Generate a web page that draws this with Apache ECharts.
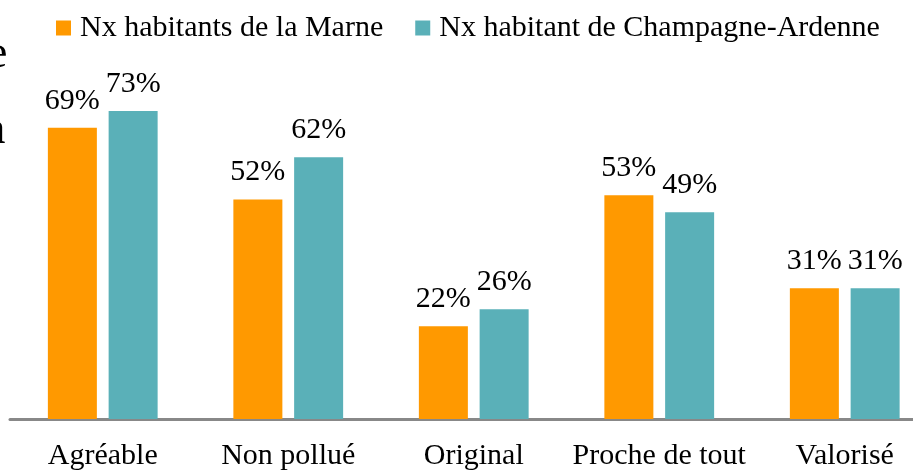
<!DOCTYPE html>
<html>
<head>
<meta charset="utf-8">
<script src="https://cdn.jsdelivr.net/npm/echarts@6/dist/echarts.min.js"></script>
<style>
  html, body { margin: 0; padding: 0; background: #fff; }
  #chart { width: 913px; height: 473px; }
</style>
</head>
<body>
<div id="chart"></div>
<script>
// données
var categories = ["Agréable", "Non pollué", "Original", "Proche de tout", "Valorisé"];
var marne = [69, 52, 22, 53, 31];
var champagne = [73, 62, 26, 49, 31];
var seriesNames = ["Nx habitants de la Marne", "Nx habitant de Champagne-Ardenne"];

var font = "'Liberation Serif', 'Times New Roman', serif";

var myChart = echarts.init(document.getElementById("chart"));
myChart.setOption({
  animation: false,
  legend: {
    left: 51,
    top: 8,
    itemWidth: 15,
    itemHeight: 15,
    itemGap: 32,
    icon: "rect",
    textStyle: { fontFamily: font, fontSize: 30, color: "#000", padding: [0, 0, 0, 4] },
    data: seriesNames
  },
  grid: { left: 10, width: 927.5, top: -3, bottom: 54, outerBoundsMode: "none", containLabel: false },
  xAxis: {
    type: "category",
    data: categories,
    offset: 1.5,
    axisLine: { lineStyle: { color: "#888", width: 3 } },
    axisTick: { show: false },
    axisLabel: { fontFamily: font, fontSize: 30, color: "#000", margin: 21, interval: 0 }
  },
  yAxis: {
    type: "value",
    min: 0,
    max: 100,
    show: false,
    splitLine: { show: false }
  },
  graphic: [
    { type: "text", left: -13, top: 32, style: { text: "e", font: "46px " + font, fill: "#000" } },
    { type: "text", left: -15, top: 108, style: { text: "a", font: "46px " + font, fill: "#000" } }
  ],
  series: [
    {
      name: seriesNames[0],
      type: "bar",
      data: marne,
      barWidth: 49,
      barGap: "24%",
      itemStyle: { color: "#FF9900" },
      label: {
        show: true,
        position: "top",
        distance: 12,
        formatter: "{c}%",
        fontFamily: font,
        fontSize: 30,
        color: "#000"
      }
    },
    {
      name: seriesNames[1],
      type: "bar",
      data: champagne,
      barWidth: 49,
      itemStyle: { color: "#5AB0B8" },
      label: {
        show: true,
        position: "top",
        distance: 12,
        formatter: "{c}%",
        fontFamily: font,
        fontSize: 30,
        color: "#000"
      }
    }
  ]
});
</script>
</body>
</html>
